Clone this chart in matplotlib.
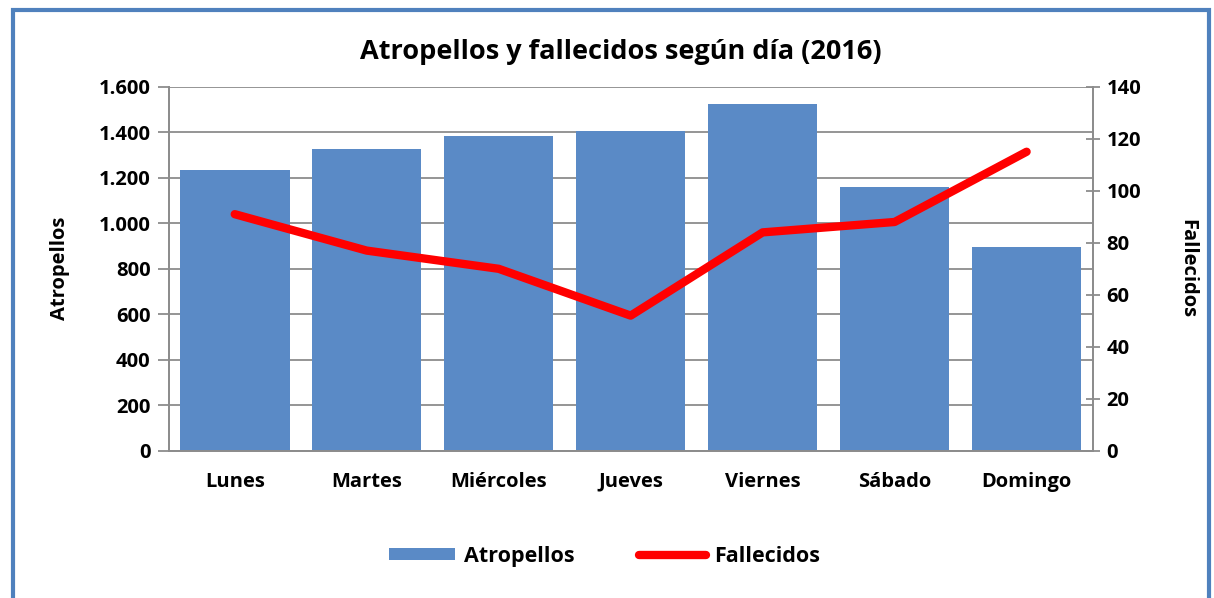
import matplotlib.pyplot as plt
from matplotlib.patches import Rectangle

dias = ["Lunes", "Martes", "Miércoles", "Jueves", "Viernes", "Sábado", "Domingo"]
atropellos = [1235, 1327, 1385, 1407, 1525, 1160, 897]
fallecidos = [91, 77, 70, 52, 84, 88, 115]

plt.rcParams['font.family'] = ['Open Sans', 'DejaVu Sans']
plt.rcParams['font.weight'] = 'bold'

fig = plt.figure(figsize=(12.14, 5.98), dpi=100)
ax = fig.add_axes([0.139, 0.246, 0.761, 0.609])
ax2 = ax.twinx()

x = list(range(len(dias)))
bars = ax.bar(x, atropellos, width=0.83, color="#5a8ac6", zorder=2, label="Atropellos")
line, = ax2.plot(x, fallecidos, color="#ff0000", lw=6, solid_capstyle="round",
                 solid_joinstyle="round", zorder=3, label="Fallecidos")

ax.set_xlim(-0.5, len(dias) - 0.5)
ax.set_ylim(0, 1600)
ax.set_yticks(range(0, 1601, 200))
ax.set_yticklabels([f"{v:,}".replace(",", ".") for v in range(0, 1601, 200)])
ax2.set_ylim(0, 140)
ax2.set_yticks(range(0, 141, 20))

ax.yaxis.grid(True, color="#8c8c8c", lw=1.3, zorder=0)
ax.set_axisbelow(True)
ax.set_xticks(x)
ax.set_xticklabels(dias)
ax.tick_params(axis="x", length=0, pad=15, labelsize=14.5)
ax.tick_params(axis="y", length=8, width=1.3, color="#8c8c8c", labelsize=14.5, pad=5)
ax2.tick_params(axis="y", length=10, width=1.3, direction="inout", color="#8c8c8c",
                labelsize=14.5, pad=5)

for a in (ax, ax2):
    a.spines["top"].set_visible(False)
    for s in ("left", "right", "bottom"):
        a.spines[s].set_color("#8c8c8c")
        a.spines[s].set_linewidth(1.3)

ax.set_ylabel("Atropellos", fontsize=14.5, fontweight="bold", labelpad=21)
ax2.set_ylabel("Fallecidos", fontsize=14.5, fontweight="bold", rotation=-90, labelpad=40)
fig.text(0.511, 0.913, "Atropellos y fallecidos según día (2016)", ha="center", va="center",
         fontsize=19.5, fontweight="bold")

fig.legend([bars, line], ["Atropellos", "Fallecidos"], loc="center", bbox_to_anchor=(0.498, 0.07),
           ncol=2, frameon=False, fontsize=15.5, handlelength=3.1, handleheight=0.5,
           columnspacing=3.0, handletextpad=0.4)

fig.patches.append(Rectangle((0.011, -0.05), 0.985, 1.033, transform=fig.transFigure,
                             fill=False, edgecolor="#4f81bd", lw=3))

fig.savefig("out.png", dpi=100)
